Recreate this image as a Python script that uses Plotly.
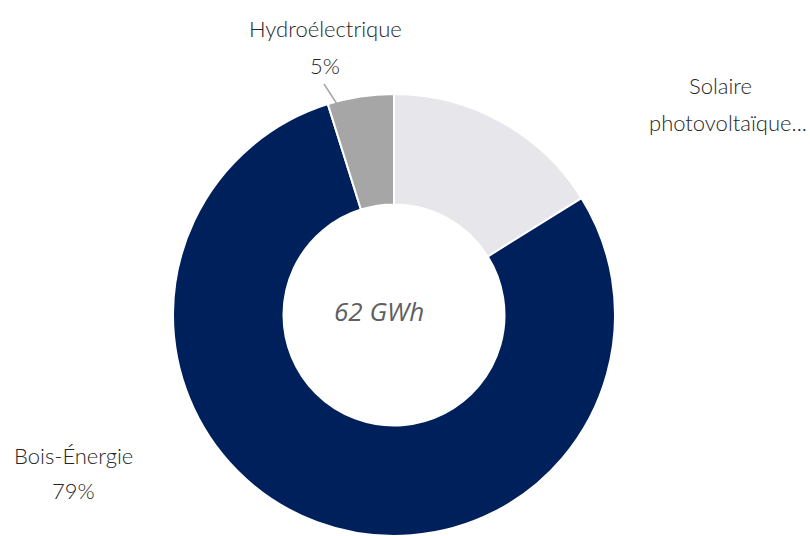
import plotly.graph_objects as go

# Energy production by source (GWh)
labels = ["Solaire photovoltaïque", "Bois-Énergie", "Hydroélectrique"]
values = [10, 49, 3]
colors = ["#e6e6eb", "#00205b", "#a6a6a6"]
center_text = "62 GWh"

W, H = 810, 536
LABEL_FONT = "Lato, Roboto, sans-serif"

total = sum(values)
pct = [round(v / total * 100) for v in values]

fig = go.Figure(
    go.Pie(
        labels=labels,
        values=values,
        sort=False,
        direction="clockwise",
        rotation=0,
        hole=0.5,
        marker=dict(colors=colors, line=dict(color="white", width=2)),
        textinfo="none",
        hoverinfo="label+percent",
        showlegend=False,
        domain=dict(x=[(394 - 221) / W, (394 + 221) / W], y=[0, 1 - 94 / H]),
    )
)


def px(x, y):
    return x / W, 1 - y / H


annotations = []


def add_text(x, y, text, size=22, color="#262626", family=LABEL_FONT, weight=300):
    ax, ay = px(x, y)
    annotations.append(
        dict(
            x=ax, y=ay, xref="paper", yref="paper", text=text, showarrow=False,
            xanchor="center", yanchor="middle",
            font=dict(family=family, size=size, color=color, weight=weight),
        )
    )


# Hydroélectrique label with leader line
add_text(325, 29, labels[2])
add_text(325, 65, f"{pct[2]}%")

# Solaire label (truncated name, percentage falls outside the frame)
add_text(720, 85, "Solaire")
add_text(728, 122, "photovoltaïque...")

# Bois-Énergie label
add_text(73, 455, labels[1])
add_text(73, 490, f"{pct[1]}%")

# Total in the hole
add_text(379, 311, center_text, size=26, color="#5f5f5f",
         family="Open Sans, Noto Sans, sans-serif", weight=400)
annotations[-1]["font"]["style"] = "italic"

x0, y0 = px(324, 84)
x1, y1 = px(337, 104)
fig.add_shape(type="line", xref="paper", yref="paper", x0=x0, y0=y0, x1=x1, y1=y1,
              line=dict(color="#a6a6a6", width=1.5))

fig.update_layout(
    width=W, height=H,
    margin=dict(l=0, r=0, t=0, b=0),
    paper_bgcolor="white",
    plot_bgcolor="white",
    annotations=annotations,
)

fig.write_html("out.html")
